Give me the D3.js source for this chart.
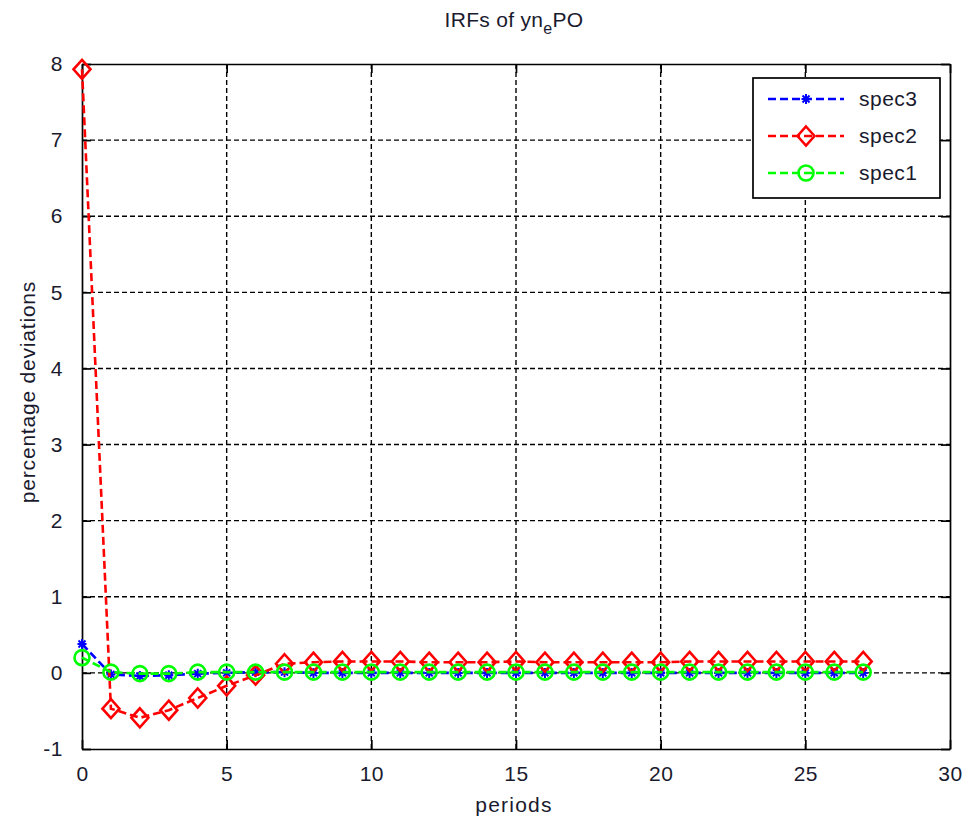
<!DOCTYPE html>
<html>
<head>
<meta charset="utf-8">
<script src="https://cdn.jsdelivr.net/npm/d3@7"></script>
<style>
  body { margin: 0; background: #fff; }
  text { font-family: "Liberation Sans", Arial, sans-serif; fill: #1a1a2e; }
</style>
</head>
<body>
<div id="chart"></div>
<script>
// data
const periods = d3.range(0, 28);
const spec3 = [0.38, -0.02, -0.04, -0.03, -0.01, 0.0, 0.01, 0.01, 0.0, 0.0, 0.0, 0.0, 0.0, 0.0,
  0.0, 0.0, 0.0, 0.0, 0.0, 0.0, 0.0, 0.0, 0.0, 0.0, 0.0, 0.0, 0.0, 0.0];
const spec2 = [7.93, -0.47, -0.59, -0.49, -0.33, -0.17, -0.03, 0.12, 0.14, 0.15, 0.15, 0.15, 0.14, 0.14,
  0.14, 0.15, 0.14, 0.14, 0.14, 0.14, 0.14, 0.15, 0.15, 0.15, 0.15, 0.15, 0.15, 0.15];
const spec1 = [0.2, 0.01, -0.01, -0.01, 0.01, 0.01, 0.01, 0.01, 0.01, 0.01, 0.01, 0.01, 0.01, 0.01,
  0.01, 0.01, 0.01, 0.01, 0.01, 0.01, 0.01, 0.01, 0.01, 0.01, 0.01, 0.01, 0.01, 0.01];
const xTicks = [0, 5, 10, 15, 20, 25, 30];
const yTicks = [-1, 0, 1, 2, 3, 4, 5, 6, 7, 8];
const seriesNames = ["spec3", "spec2", "spec1"];
const seriesColors = ["#0000ff", "#ff0000", "#00ff00"];
const seriesMarkers = ["star", "diamond", "circle"];

const width = 970, height = 823;
const margin = { top: 64, right: 20, bottom: 74, left: 82 };
const innerW = width - margin.left - margin.right;
const innerH = height - margin.top - margin.bottom;

const svg = d3.select("#chart").append("svg")
  .attr("width", width).attr("height", height);

const x = d3.scaleLinear().domain([0, 30]).range([margin.left, margin.left + innerW]);
const y = d3.scaleLinear().domain([-1, 8]).range([margin.top + innerH, margin.top]);

// grid
const grid = svg.append("g").attr("stroke", "#000").attr("stroke-width", 1.4)
  .attr("stroke-dasharray", "5,3");
grid.selectAll("line.gx").data(xTicks.slice(1, -1)).enter().append("line")
  .attr("x1", d => x(d)).attr("x2", d => x(d))
  .attr("y1", y(8)).attr("y2", y(-1));
grid.selectAll("line.gy").data(yTicks.slice(1, -1)).enter().append("line")
  .attr("x1", x(0)).attr("x2", x(30))
  .attr("y1", d => y(d)).attr("y2", d => y(d));

// axes (matlab box style, ticks inward)
const tickLen = 9;
const fmt = d => String(d); // plain hyphen minus like matlab
const axB = svg.append("g").attr("transform", `translate(0,${y(-1)})`)
  .call(d3.axisBottom(x).tickValues(xTicks).tickFormat(fmt).tickSizeInner(-tickLen).tickSizeOuter(0).tickPadding(17));
const axT = svg.append("g").attr("transform", `translate(0,${y(8)})`)
  .call(d3.axisTop(x).tickValues(xTicks).tickSizeInner(-tickLen).tickSizeOuter(0).tickFormat(""));
const axL = svg.append("g").attr("transform", `translate(${x(0)},0)`)
  .call(d3.axisLeft(y).tickValues(yTicks).tickFormat(fmt).tickSizeInner(-tickLen).tickSizeOuter(0).tickPadding(19));
const axR = svg.append("g").attr("transform", `translate(${x(30)},0)`)
  .call(d3.axisRight(y).tickValues(yTicks).tickSizeInner(-tickLen).tickSizeOuter(0).tickFormat(""));
[axB, axT, axL, axR].forEach(a => {
  a.select(".domain").attr("stroke", "#000").attr("stroke-width", 1.7);
  a.selectAll(".tick line").attr("stroke", "#000").attr("stroke-width", 1.7);
  a.selectAll("text").attr("font-size", 21).attr("font-family", "Liberation Sans, Arial, sans-serif")
    .attr("fill", "#1a1a2e").attr("letter-spacing", 0.5);
});

// markers
function drawMarker(g, type, color) {
  if (type === "diamond") {
    g.append("path").attr("d", "M0,-9.5L8.5,0L0,9.5L-8.5,0Z")
      .attr("fill", "none").attr("stroke", color).attr("stroke-width", 2.6);
  } else if (type === "circle") {
    g.append("circle").attr("r", 7.5)
      .attr("fill", "none").attr("stroke", color).attr("stroke-width", 2.6);
  } else {
    g.append("path").attr("d", "M-4.5,0H4.5M0,-5V5M-3.5,-3.5L3.5,3.5M-3.5,3.5L3.5,-3.5")
      .attr("fill", "none").attr("stroke", color).attr("stroke-width", 2);
  }
}

const seriesData = [spec3, spec2, spec1];
const line = d3.line().x((d, i) => x(periods[i])).y(d => y(d));

seriesData.forEach((vals, k) => {
  const g = svg.append("g");
  g.append("path").datum(vals).attr("d", line)
    .attr("fill", "none").attr("stroke", seriesColors[k]).attr("stroke-width", 2.6)
    .attr("stroke-dasharray", "8,4");
  g.selectAll("g.m").data(vals).enter().append("g")
    .attr("transform", (d, i) => `translate(${x(periods[i])},${y(d)})`)
    .each(function () { drawMarker(d3.select(this), seriesMarkers[k], seriesColors[k]); });
});

// legend
const leg = svg.append("g");
leg.append("rect").attr("x", 753).attr("y", 78).attr("width", 187).attr("height", 120)
  .attr("fill", "#fff").attr("stroke", "#000").attr("stroke-width", 1.7);
seriesNames.forEach((name, k) => {
  const ly = 99 + k * 37;
  leg.append("line").attr("x1", 768).attr("x2", 844).attr("y1", ly).attr("y2", ly)
    .attr("stroke", seriesColors[k]).attr("stroke-width", 2.6).attr("stroke-dasharray", "8,4");
  const m = leg.append("g").attr("transform", `translate(806,${ly})`);
  drawMarker(m, seriesMarkers[k], seriesColors[k]);
  leg.append("text").attr("x", 859).attr("y", ly + 7).attr("font-size", 21)
    .attr("letter-spacing", 0.5).text(name);
});

// labels
const title = svg.append("text").attr("x", 514).attr("y", 27).attr("text-anchor", "middle")
  .attr("font-size", 21).attr("letter-spacing", 0.3);
title.append("tspan").text("IRFs of yn");
title.append("tspan").attr("dy", 7).attr("font-size", 16).text("e");
title.append("tspan").attr("dy", -7).text("PO");

svg.append("text").attr("x", 514).attr("y", 812).attr("text-anchor", "middle")
  .attr("font-size", 21).attr("letter-spacing", 1.2).text("periods");

svg.append("text").attr("transform", "translate(35,392) rotate(-90)")
  .attr("text-anchor", "middle").attr("font-size", 21).attr("letter-spacing", 0.8)
  .text("percentage deviations");
</script>
</body>
</html>
